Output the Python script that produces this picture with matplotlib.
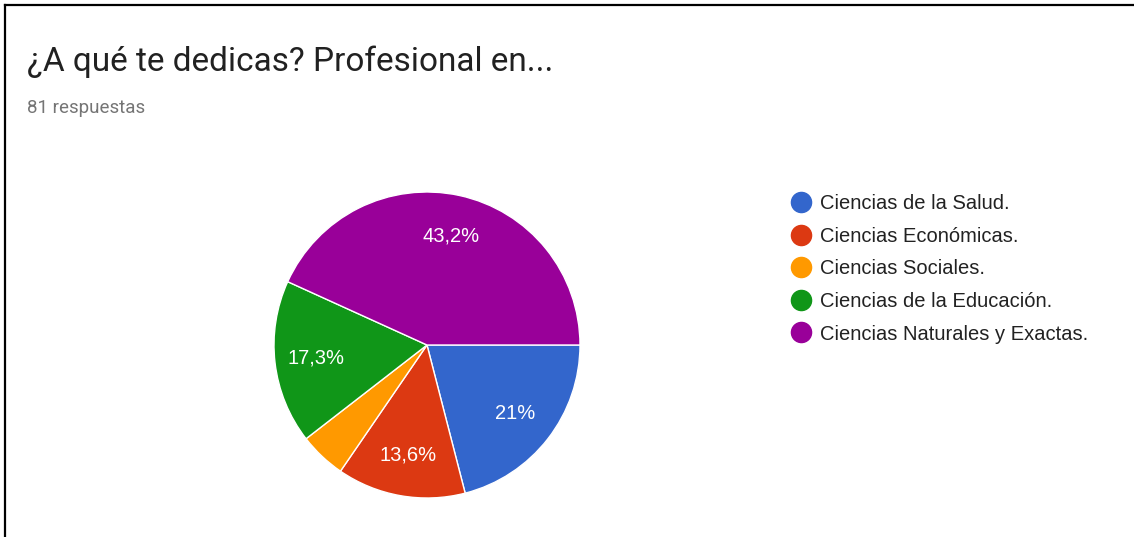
import matplotlib
matplotlib.use("Agg")
import matplotlib.pyplot as plt
from matplotlib.lines import Line2D

W, H = 1134, 537

title = "¿A qué te dedicas? Profesional en..."
subtitle = "81 respuestas"
categories = [
    "Ciencias de la Salud.",
    "Ciencias Económicas.",
    "Ciencias Sociales.",
    "Ciencias de la Educación.",
    "Ciencias Naturales y Exactas.",
]
counts = [17, 11, 4, 14, 35]
colors = ["#3366cc", "#dc3912", "#ff9900", "#109618", "#990099"]


def pct_label(p):
    # small slices stay unlabeled, decimals use a comma
    if p < 5:
        return ""
    s = f"{p:.1f}"
    if s.endswith(".0"):
        s = s[:-2]
    return s.replace(".", ",") + "%"


fig = plt.figure(figsize=(W / 100, H / 100), dpi=100)
fig.patch.set_facecolor("white")


def px(x, y):
    return x / W, 1 - y / H


# pie centred at (427, 345) px with a 153 px radius
cx, cy, r = 427, 345, 153
ax = fig.add_axes([(cx - r) / W, (H - cy - r) / H, 2 * r / W, 2 * r / H])
wedges, texts, autotexts = ax.pie(
    counts,
    colors=colors,
    startangle=0,
    counterclock=False,
    radius=1,
    autopct=pct_label,
    pctdistance=0.73,
    wedgeprops=dict(edgecolor="white", linewidth=1),
    textprops=dict(color="white", fontsize=14.5, family="Liberation Sans"),
)
ax.set_xlim(-1, 1)
ax.set_ylim(-1, 1)
ax.set_aspect("equal")
ax.axis("off")

fig.text(*px(27, 71), title, fontsize=24, family="Roboto", color="#212121", va="baseline", ha="left")
fig.text(*px(27, 113), subtitle, fontsize=13.5, family="Roboto", color="#757575", va="baseline", ha="left")

# legend: one coloured dot and label per row
for i, (label, c) in enumerate(zip(categories, colors)):
    yy = 202 + 32.5 * i
    fig.add_artist(Line2D([px(801, 0)[0]], [px(0, yy)[1]], marker="o", linestyle="",
                          markersize=14.5, markerfacecolor=c, markeredgecolor=c))
    fig.text(*px(820, yy), label, fontsize=14.5, family="Liberation Sans",
             color="#222222", va="center_baseline", ha="left")

# frame lines along the top and left edges
fig.add_artist(Line2D([px(5, 0)[0], 1], [px(0, 5)[1]] * 2, color="black", linewidth=1.6))
fig.add_artist(Line2D([px(5, 0)[0]] * 2, [0, px(0, 5)[1]], color="black", linewidth=1.6))

fig.savefig("out.png", dpi=100, facecolor="white")
